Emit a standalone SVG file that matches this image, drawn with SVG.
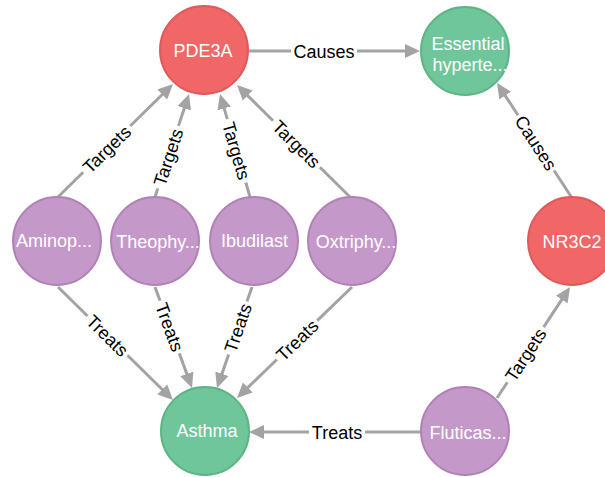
<svg xmlns="http://www.w3.org/2000/svg" width="605" height="477" viewBox="0 0 605 477">
<style>
.e{stroke:#A3A3A3;stroke-width:3;fill:none}
.a{marker-end:url(#arr)}
.el{font-family:"Liberation Sans",Arial,sans-serif;font-size:18px;fill:#000;text-anchor:middle}
.nl{font-family:"Liberation Sans",Arial,sans-serif;font-size:18px;fill:#fff;text-anchor:middle}
.red{fill:#F16667;stroke:#E05A5B;stroke-width:2}
.green{fill:#6FC69B;stroke:#5DB584;stroke-width:2}
.purple{fill:#C499C9;stroke:#B282B7;stroke-width:2}
</style>
<defs>
<marker id="arr" markerUnits="userSpaceOnUse" markerWidth="15" markerHeight="15" viewBox="0 0 15 15" refX="11" refY="7.5" orient="auto">
<path d="M0,0.5 L15,7.5 L0,14.5 Z" fill="#A3A3A3"/>
</marker>
</defs>
<rect width="605" height="477" fill="#fff"/>
<g id="edges">
<line class="e" x1="249" y1="51" x2="291" y2="51"/><line class="e a" x1="357" y1="51" x2="416" y2="51"/>
<text class="el" x="324" y="57.5">Causes</text>

<line class="e" x1="58" y1="197" x2="83.15" y2="172.28"/><line class="e a" x1="130.24" y1="126.02" x2="170.15" y2="86.8"/>
<text class="el" transform="translate(106.7,149.15) rotate(-44.5)" y="6.5">Targets</text>

<line class="e" x1="155" y1="197" x2="157.79" y2="188.55"/><line class="e a" x1="178.48" y1="125.88" x2="187.75" y2="97.8"/>
<text class="el" transform="translate(168.14,157.21) rotate(-71.7)" y="6.5">Targets</text>

<line class="e" x1="250" y1="197" x2="245.78" y2="182.5"/><line class="e a" x1="227.32" y1="119.14" x2="221.12" y2="97.84"/>
<text class="el" transform="translate(236.55,150.82) rotate(73.8)" y="6.5">Targets</text>

<line class="e" x1="350" y1="197" x2="319.94" y2="167.21"/><line class="e a" x1="273.07" y1="120.74" x2="239.84" y2="87.82"/>
<text class="el" transform="translate(296.51,143.97) rotate(44.7)" y="6.5">Targets</text>

<line class="e" x1="58" y1="287" x2="87.48" y2="315.97"/><line class="e a" x1="127.43" y1="355.22" x2="170.15" y2="397.2"/>
<text class="el" transform="translate(107.45,335.59) rotate(44.5)" y="6.5">Treats</text>

<line class="e" x1="155" y1="287" x2="160.05" y2="300.77"/><line class="e a" x1="179.31" y1="353.36" x2="190.62" y2="384.24"/>
<text class="el" transform="translate(169.68,327.07) rotate(69.9)" y="6.5">Treats</text>

<line class="e" x1="252" y1="287" x2="246.98" y2="301.49"/><line class="e a" x1="228.64" y1="354.41" x2="218.31" y2="384.22"/>
<text class="el" transform="translate(237.81,327.95) rotate(-70.9)" y="6.5">Treats</text>

<line class="e" x1="352" y1="287" x2="317.18" y2="320.61"/><line class="e a" x1="276.88" y1="359.5" x2="239.88" y2="395.22"/>
<text class="el" transform="translate(297.03,340.06) rotate(-44)" y="6.5">Treats</text>

<line class="e" x1="421" y1="432" x2="365" y2="432"/><line class="e a" x1="309" y1="432" x2="253" y2="432"/>
<text class="el" x="337" y="438.5">Treats</text>

<line class="e" x1="497" y1="398" x2="507.37" y2="382.23"/><line class="e a" x1="543.64" y1="327.09" x2="567.8" y2="290.34"/>
<text class="el" transform="translate(525.5,354.66) rotate(-56.7)" y="6.5">Targets</text>

<line class="e" x1="572" y1="198" x2="554.06" y2="170.49"/><line class="e a" x1="518" y1="115.21" x2="499.19" y2="86.35"/>
<text class="el" transform="translate(536.03,142.85) rotate(56.9)" y="6.5">Causes</text>
</g>
<g id="PDE3A"><circle class="red" cx="204" cy="50" r="44"/><text class="nl" x="203" y="57">PDE3A</text></g>
<g id="EssentialHypertension"><circle class="green" cx="465" cy="51" r="44"/><text class="nl" x="468" y="50">Essential</text><text class="nl" x="470" y="71">hyperte...</text></g>
<g id="Aminophylline"><circle class="purple" cx="57" cy="241" r="44"/><text class="nl" x="54" y="247">Aminop...</text></g>
<g id="Theophylline"><circle class="purple" cx="155" cy="241" r="44"/><text class="nl" x="158" y="248">Theophy...</text></g>
<g id="Ibudilast"><circle class="purple" cx="254" cy="241" r="44"/><text class="nl" x="254.5" y="247">Ibudilast</text></g>
<g id="Oxtriphylline"><circle class="purple" cx="352" cy="241" r="44"/><text class="nl" x="356" y="248">Oxtriphy...</text></g>
<g id="NR3C2"><circle class="red" cx="572" cy="241" r="44"/><text class="nl" x="572" y="248">NR3C2</text></g>
<g id="Asthma"><circle class="green" cx="205" cy="431" r="44"/><text class="nl" x="207" y="437">Asthma</text></g>
<g id="Fluticasone"><circle class="purple" cx="465" cy="431" r="44"/><text class="nl" x="468" y="439">Fluticas...</text></g>
</svg>
